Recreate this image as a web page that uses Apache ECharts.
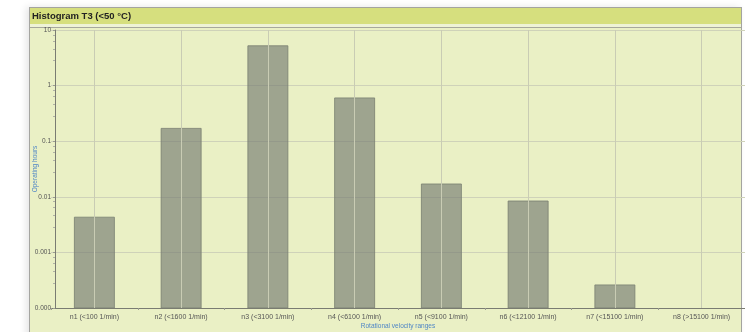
<!DOCTYPE html>
<html>
<head>
<meta charset="utf-8">
<script src="https://cdn.jsdelivr.net/npm/echarts@6/dist/echarts.min.js"></script>
<style>
html,body{margin:0;padding:0;background:#fff;width:745px;height:332px;overflow:hidden;}
#frame{position:absolute;left:29px;top:7px;width:711px;height:340px;border:1px solid #a4a4a0;background:#eaf0c5;box-shadow:-3px 0 7px rgba(0,0,0,0.10);}
#bar{position:absolute;left:30px;top:8px;width:711px;height:16px;background:#d6df7e;}
#sep{position:absolute;left:30px;top:24px;width:711px;height:3px;background:#eef3d6;}
#sep2{position:absolute;left:30px;top:27px;width:711px;height:1px;background:#a6a89c;}
#chart{position:absolute;left:0;top:0;width:745px;height:332px;}
</style>
</head>
<body>
<div id="frame"></div>
<div id="bar"></div>
<div id="sep"></div>
<div id="sep2"></div>
<div id="chart"></div>
<script>
const chartTitle = 'Histogram T3 (<50 °C)';
const categories = ['n1 (<100 1/min)','n2 (<1600 1/min)','n3 (<3100 1/min)','n4 (<6100 1/min)','n5 (<9100 1/min)','n6 (<12100 1/min)','n7 (<15100 1/min)','n8 (>15100 1/min)'];
const operatingHours = [0.0043, 0.17, 5.2, 0.60, 0.017, 0.0084, 0.00026, null];
const yTickValues = [0.0001, 0.001, 0.01, 0.1, 1, 10];
const yTickLabels = ['0.000', '0.001', '0.01', '0.1', '1', '10'];
const yAxisName = 'Operating hours';
const xAxisName = 'Rotational velocity ranges';

const yMin = yTickValues[0];
const yMax = yTickValues[yTickValues.length-1];

const chart = echarts.init(document.getElementById('chart'), null, {renderer:'canvas'});
chart.setOption({
  animation:false,
  backgroundColor:'transparent',
  textStyle:{fontFamily:'Liberation Sans, Arial, sans-serif'},
  title:{text:chartTitle,left:32,top:11,padding:0,textStyle:{fontSize:9.5,fontWeight:'bold',color:'#222'}},
  grid:{left:51,right:0,top:30,bottom:24,containLabel:false,outerBoundsMode:'none'},
  xAxis:{
    type:'category',data:categories,boundaryGap:true,
    name:xAxisName,nameLocation:'middle',nameGap:15,nameMoveOverlap:false,
    nameTextStyle:{fontSize:6.5,color:'#4f86c6'},
    axisLine:{show:true,lineStyle:{color:'#7a7c72',width:1}},
    axisTick:{show:true,length:2,lineStyle:{color:'#9a9c90'}},
    axisLabel:{fontSize:7,color:'#555',margin:6,hideOverlap:false,interval:0},
    splitLine:{show:false}
  },
  yAxis:{
    type:'log',logBase:10,min:yMin,max:yMax,
    offset:-4,
    name:yAxisName,nameLocation:'middle',nameGap:16,nameRotate:90,nameMoveOverlap:false,
    nameTextStyle:{fontSize:6.5,color:'#4f86c6'},
    axisLine:{show:true,lineStyle:{color:'#7a7c72',width:1}},
    axisTick:{show:true,length:2,lineStyle:{color:'#9a9c90'}},
    minorTick:{show:true,splitNumber:5,length:2,lineStyle:{color:'#b0b2a4'}},
    axisLabel:{fontSize:6.5,color:'#555',margin:4,formatter:function(v){
      for(let i=0;i<yTickValues.length;i++){ if(Math.abs(Math.log10(v)-Math.log10(yTickValues[i]))<1e-6) return yTickLabels[i]; }
      return '';
    }},
    splitLine:{show:true,lineStyle:{color:'#cfd2b9',width:1}}
  },
  series:[{
    type:'custom',
    data:operatingHours.map((v,i)=>[i,v]),
    encode:{x:0,y:1},
    renderItem:function(params,api){
      const v = api.value(1);
      if (v == null || isNaN(v)) return null;
      const top = api.coord([api.value(0), v]);
      const bottom = api.coord([api.value(0), yMin]);
      const w = 40;
      return {
        type:'rect',
        shape:{x:top[0]-w/2,y:top[1],width:w,height:bottom[1]-top[1]},
        style:{fill:'rgba(112,118,110,0.62)',stroke:'rgba(120,126,112,0.8)',lineWidth:1}
      };
    },
    markLine:{
      silent:true,symbol:'none',label:{show:false},
      lineStyle:{color:'#c9ccb4',width:1,type:'solid'},
      data:categories.map(c=>({xAxis:c}))
    }
  }]
});
</script>
</body>
</html>
